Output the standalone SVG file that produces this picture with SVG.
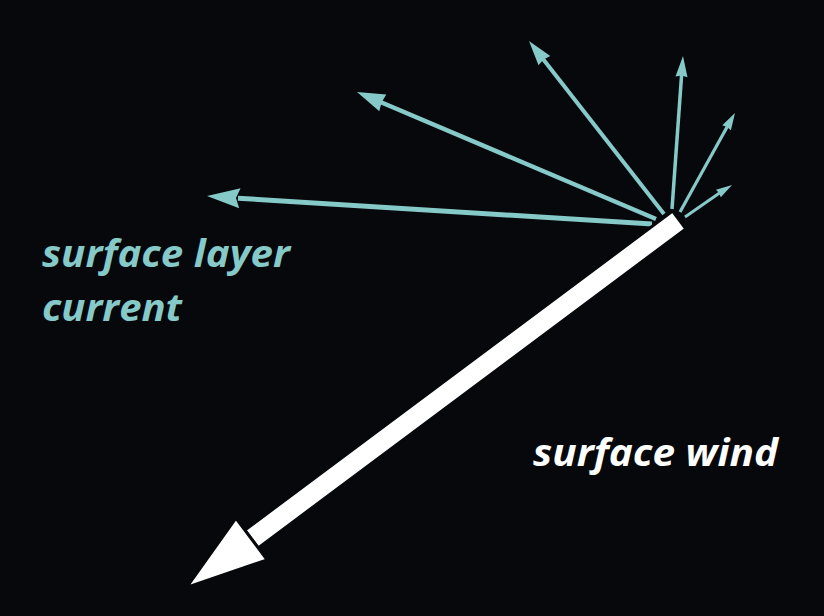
<svg xmlns="http://www.w3.org/2000/svg" width="824" height="616" viewBox="0 0 824 616">
<style>
.cur{stroke:#86c9c9;fill:none;stroke-linecap:butt}
.head{fill:#86c9c9;stroke:none}
.wind{fill:#ffffff;stroke:#06080b;stroke-width:3;stroke-linejoin:miter}
.lbl{font-family:"Open Sans","Noto Sans",sans-serif;font-weight:bold;font-style:italic;font-size:38px}
</style>
<rect x="0" y="0" width="824" height="616" fill="#06080b"/>
<g id="connectors">
<g id="current1"><line class="cur" stroke-width="5" x1="652" y1="224" x2="238" y2="198.2"/><polygon class="head" points="207,196 240.6,188.2 236,198 239.2,208.2"/></g>
<g id="current2"><line class="cur" stroke-width="4.5" x1="656" y1="219" x2="381" y2="102.2"/><polygon class="head" points="357,92 386.3,94.6 381.5,102.5 379.3,111.2"/></g>
<g id="current3"><line class="cur" stroke-width="4" x1="664" y1="214" x2="543" y2="59"/><polygon class="head" points="529,41 550.3,56.1 543.5,59.5 538.5,65.3"/></g>
<g id="current4"><line class="cur" stroke-width="3.5" x1="672" y1="209" x2="681.6" y2="75"/><polygon class="head" points="683,56 687.5,77.3 681.5,75.5 675.5,76.5"/></g>
<g id="current5"><line class="cur" stroke-width="3.2" x1="680" y1="212" x2="727.2" y2="126.8"/><polygon class="head" points="735,113 730.9,130.3 727,127 722.3,125.3"/></g>
<g id="current6"><line class="cur" stroke-width="3" x1="685" y1="217" x2="719.5" y2="193"/><polygon class="head" points="732,185 720.8,197.3 719,193 716,189.7"/></g>
</g>
<g id="surface-wind-arrow">
<polygon class="wind" points="685.8,228.9 672.6,211.1 244.9,530.1 258.2,547.9"/>
<polygon class="wind" points="267.1,559.8 235.9,518.2 186.6,587.4"/>
</g>
<g id="label-current">
<text class="lbl" fill="#86c9c9" x="42" y="267" textLength="248" lengthAdjust="spacingAndGlyphs">surface layer</text>
<text class="lbl" fill="#86c9c9" x="42" y="321" textLength="140" lengthAdjust="spacingAndGlyphs">current</text>
</g>
<g id="label-wind">
<text class="lbl" fill="#ffffff" x="533" y="466" textLength="245" lengthAdjust="spacingAndGlyphs">surface wind</text>
</g>
</svg>
